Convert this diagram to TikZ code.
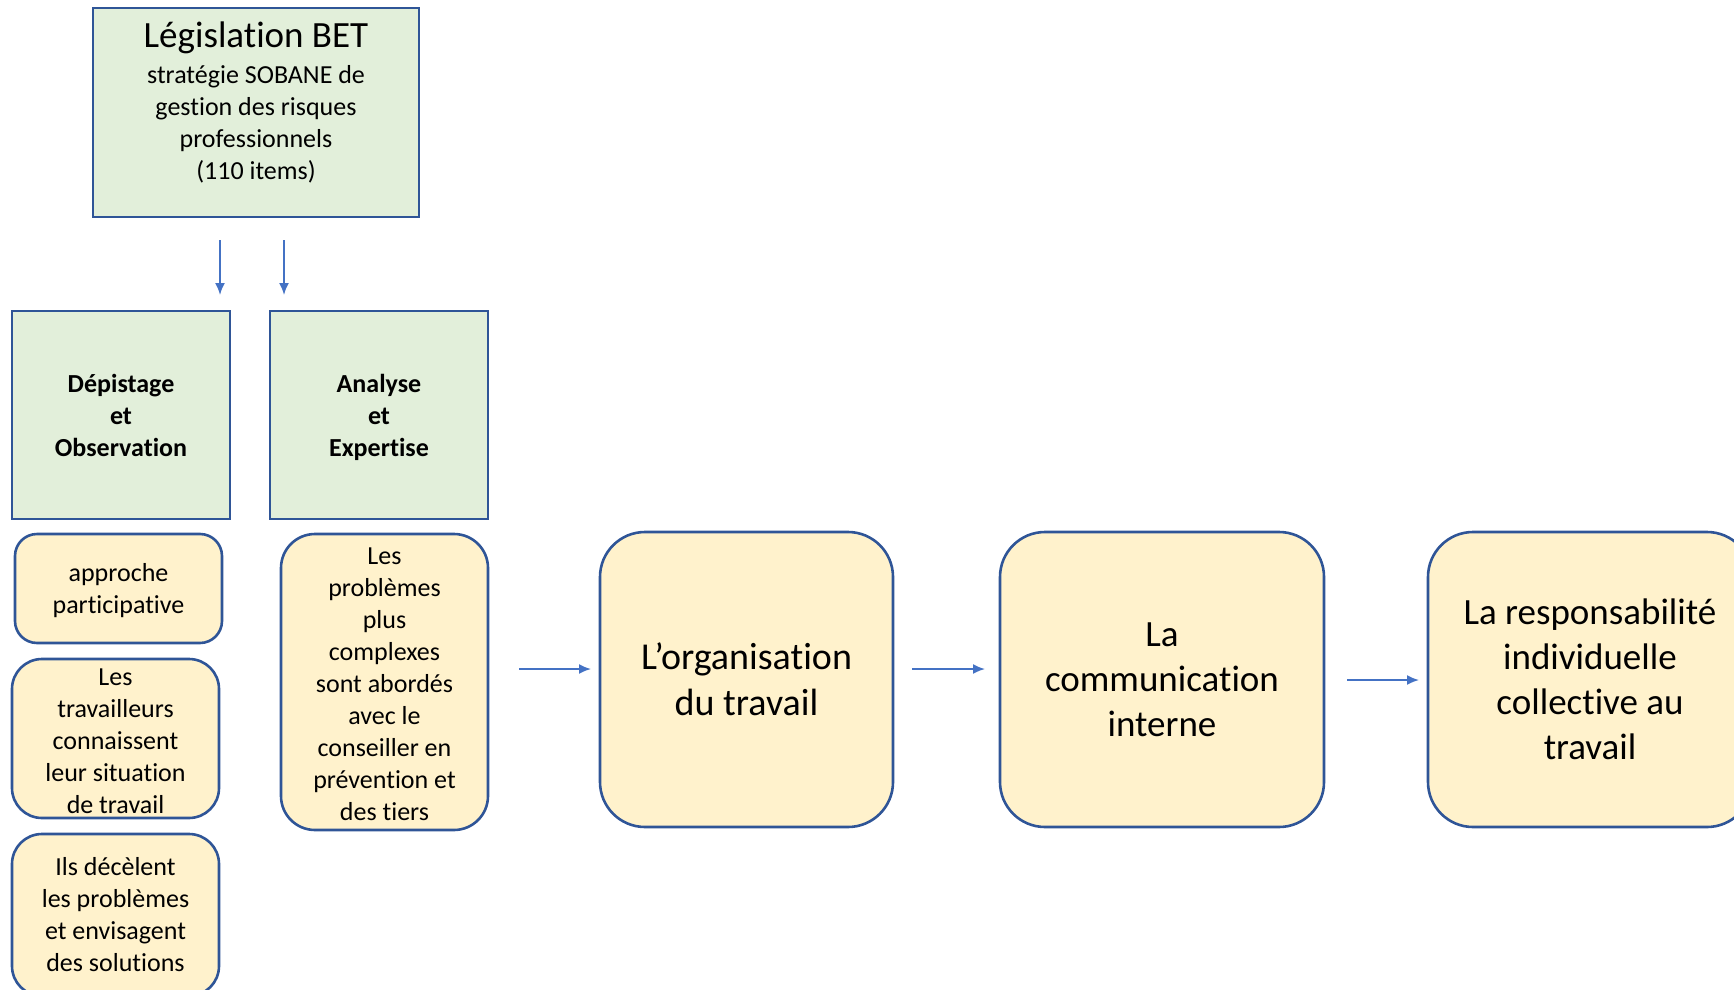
\documentclass[tikz,border=0pt]{standalone}
\usepackage{fontspec}
\setmainfont{Carlito}[RawFeature={-liga;-clig;-calt;-dlig}]
\usetikzlibrary{arrows.meta}
\definecolor{bordc}{HTML}{2F5597}
\definecolor{greenf}{HTML}{E2EFDA}
\definecolor{yelf}{HTML}{FFF2CC}
\definecolor{arrc}{HTML}{4472C4}
\begin{document}
\begin{tikzpicture}[x=1pt,y=-1pt,
  gbox/.style={draw=bordc,fill=greenf,line width=2.8pt,inner sep=0pt,align=center},
  ybox/.style={draw=bordc,fill=yelf,line width=2.6pt,inner sep=0pt,align=center},
  arr/.style={draw=arrc,line width=1.8pt,-{Latex[length=12pt,width=10pt]}},
  fs/.style={font=\fontsize{26}{32}\selectfont},
  fb/.style={font=\fontsize{26}{32}\selectfont\bfseries},
  fl/.style={font=\fontsize{38}{46}\selectfont},
  fm/.style={font=\fontsize{37}{45}\selectfont}]
\useasboundingbox (0,0) rectangle (1734,990);
\clip (0,0) rectangle (1734,990);

% top box
\node[gbox,minimum width=326pt,minimum height=209pt] (leg) at (256,112.5) {};
\node[fm,inner sep=0pt] (legt) at (256,38) {Législation BET};
\node[fs,align=center,inner sep=0pt] (legs) at (256,124) {stratégie SOBANE de\\gestion des risques\\professionnels\\(110 items)};

% green boxes
\node[gbox,fb,minimum width=218pt,minimum height=208pt] (dep) at (121,415) {Dépistage\\et\\Observation};
\node[gbox,fb,minimum width=218pt,minimum height=208pt] (ana) at (379,415) {\vphantom{Dé}Analyse\\et\\\raisebox{0pt}[\height][0pt]{Expertise}};

% small yellow boxes
\node[ybox,fs,rounded corners=22pt,minimum width=207pt,minimum height=109pt] (appr) at (118.5,588.5) {\vphantom{É}approche\\participative};
\node[ybox,fs,rounded corners=30pt,minimum width=207pt,minimum height=159pt] (trav) at (115.5,738.5) {\vphantom{É}Les\\travailleurs\\connaissent\\leur situation\\de travail};
\node[ybox,fs,rounded corners=30pt,minimum width=207pt,minimum height=162pt] (ils) at (115.5,915) {Ils décèlent\\les problèmes\\et envisagent\\des solutions};
\node[ybox,fs,rounded corners=34pt,minimum width=207pt,minimum height=296pt] (ana2) at (384.5,682) {\vphantom{É}Les\\problèmes\\plus\\complexes\\sont abordés\\avec le\\conseiller en\\prévention et\\des tiers};

% big yellow boxes
\node[ybox,fl,rounded corners=45pt,minimum width=293pt,minimum height=295pt] (org) at (746.5,679.5) {L’organisation\\du travail};
\node[ybox,fm,rounded corners=45pt,minimum width=324pt,minimum height=295pt] (comm) at (1162,679.5) {La\\communication\\interne};
\node[ybox,fm,rounded corners=45pt,minimum width=324pt,minimum height=295pt] (resp) at (1590,679.5) {La responsabilité\\individuelle\\collective au\\travail};

% arrow ends
\coordinate (d1s) at (220,240);
\coordinate (d1e) at (220,295);
\coordinate (d2s) at (284,240);
\coordinate (d2e) at (284,295);
\coordinate (h1s) at (519,669);
\coordinate (h1e) at (591,669);
\coordinate (h2s) at (912,669);
\coordinate (h2e) at (985,669);
\coordinate (h3s) at (1347,680);
\coordinate (h3e) at (1419,680);

\draw[arr] (d1s) -- (d1e);
\draw[arr] (d2s) -- (d2e);
\draw[arr] (h1s) -- (h1e);
\draw[arr] (h2s) -- (h2e);
\draw[arr] (h3s) -- (h3e);
\end{tikzpicture}
\end{document}
